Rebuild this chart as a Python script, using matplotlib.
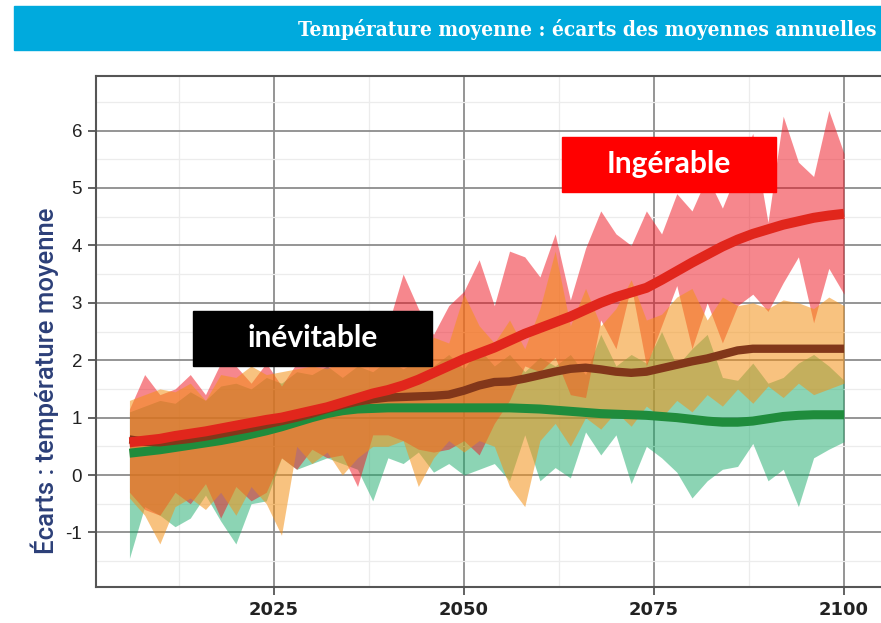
import matplotlib
matplotlib.use("Agg")
import matplotlib.pyplot as plt
from matplotlib.patches import Rectangle
from matplotlib.ticker import FixedLocator

# --- data (one value every 2 years) ---
years = list(range(2006, 2101, 2))

red_hi = [1.15, 1.75, 1.40, 1.50, 1.75, 1.40, 1.95, 1.90,
          1.60, 1.95, 1.55, 1.95, 2.10, 2.20, 2.00, 2.40,
          2.30, 2.60, 3.50, 2.90, 2.45, 2.95, 3.20, 3.75,
          2.95, 3.90, 3.80, 3.45, 4.20, 3.05, 3.95, 4.60,
          4.20, 4.00, 4.60, 4.20, 4.90, 4.60, 5.20, 4.65,
          5.30, 5.95, 4.40, 6.25, 5.45, 5.20, 6.35, 5.60]
red_lo = [-0.30, -0.60, -0.70, -0.30, -0.50, -0.15, -0.75, -0.20,
          -0.45, -0.30, 0.30, 0.10, 0.45, 0.30, 0.35, -0.20,
          0.70, 0.70, 0.60, 0.45, 0.40, 0.45, 0.60, 0.35,
          0.90, 1.30, 1.90, 1.80, 2.05, 1.40, 1.35, 2.70,
          2.20, 3.30, 1.90, 2.60, 3.30, 2.20, 3.00, 2.30,
          2.95, 3.15, 2.85, 3.35, 3.80, 2.65, 3.60, 3.15]

orange_hi = [1.30, 1.40, 1.50, 1.45, 1.60, 1.30, 1.75, 1.70,
             1.90, 1.75, 1.80, 1.85, 1.90, 1.85, 2.00, 2.10,
             1.90, 2.20, 2.30, 2.00, 2.40, 2.30, 3.15, 2.60,
             2.30, 2.70, 2.20, 2.90, 3.90, 2.60, 3.25, 2.60,
             2.90, 3.40, 2.70, 2.80, 3.10, 3.25, 2.70, 3.10,
             2.95, 3.00, 2.90, 3.05, 3.00, 2.90, 3.10, 2.95]
orange_lo = [-0.40, -0.70, -1.20, -0.55, -0.40, -0.60, -0.30, -0.70,
             -0.20, -0.50, -1.05, 0.50, 0.20, 0.40, 0.00, 0.30,
             0.50, 0.50, 0.60, -0.20, 0.30, 0.60, 0.40, 0.60,
             0.50, -0.20, -0.55, 0.60, 0.90, 0.50, 1.00, 0.80,
             1.10, 0.85, 1.20, 1.00, 1.30, 1.10, 1.40, 1.20,
             1.50, 1.25, 1.55, 1.35, 1.60, 1.40, 1.50, 1.60]

green_hi = [1.10, 1.20, 1.30, 1.25, 1.45, 1.30, 1.55, 1.60,
            1.50, 1.70, 1.60, 1.80, 1.75, 1.90, 1.70, 1.90,
            1.80, 2.00, 1.85, 2.00, 1.90, 2.10, 1.85, 2.20,
            1.90, 2.10, 1.80, 2.05, 1.90, 2.10, 1.75, 2.45,
            1.90, 2.10, 1.95, 2.50, 1.90, 2.20, 2.45, 1.70,
            1.65, 1.95, 1.60, 1.70, 1.95, 2.10, 1.90, 1.65]
green_lo = [-1.45, -0.55, -0.70, -0.90, -0.75, -0.35, -0.80, -1.20,
            -0.50, -0.45, 0.30, 0.10, 0.20, 0.30, 0.20, 0.10,
            -0.45, 0.30, 0.20, 0.40, 0.05, 0.20, 0.00, 0.10,
            0.20, -0.10, 0.70, -0.10, 0.13, -0.05, 0.75, 0.35,
            0.70, -0.15, 0.50, 0.30, 0.05, -0.40, -0.10, 0.10,
            0.15, 0.55, -0.10, 0.10, -0.55, 0.30, 0.45, 0.58]

red_med = [0.57, 0.60, 0.63, 0.68, 0.72, 0.76, 0.81, 0.86,
           0.91, 0.96, 1.00, 1.06, 1.12, 1.18, 1.26, 1.34,
           1.42, 1.48, 1.56, 1.66, 1.78, 1.90, 2.02, 2.12,
           2.22, 2.34, 2.46, 2.56, 2.66, 2.76, 2.88, 3.00,
           3.10, 3.18, 3.26, 3.40, 3.55, 3.70, 3.84, 3.98,
           4.10, 4.20, 4.28, 4.36, 4.42, 4.48, 4.52, 4.55]
brown_med = [0.62, 0.58, 0.57, 0.60, 0.63, 0.67, 0.72, 0.77,
             0.82, 0.88, 0.94, 1.00, 1.07, 1.15, 1.22, 1.28,
             1.32, 1.35, 1.36, 1.37, 1.38, 1.40, 1.47, 1.56,
             1.62, 1.63, 1.68, 1.74, 1.80, 1.85, 1.87, 1.84,
             1.80, 1.78, 1.80, 1.86, 1.92, 1.98, 2.03, 2.10,
             2.17, 2.20, 2.20, 2.20, 2.20, 2.20, 2.20, 2.20]
green_med = [0.38, 0.41, 0.44, 0.48, 0.52, 0.56, 0.60, 0.65,
             0.71, 0.77, 0.84, 0.92, 1.00, 1.07, 1.12, 1.15,
             1.16, 1.17, 1.17, 1.17, 1.17, 1.17, 1.17, 1.17,
             1.17, 1.17, 1.16, 1.15, 1.13, 1.11, 1.09, 1.07,
             1.06, 1.05, 1.04, 1.02, 1.00, 0.97, 0.94, 0.92,
             0.92, 0.94, 0.98, 1.02, 1.04, 1.05, 1.05, 1.05]

y_ticks = [-1, 0, 1, 2, 3, 4, 5, 6]
x_ticks = [2025, 2050, 2075, 2100]

W, H = 881, 623
fig = plt.figure(figsize=(W / 100, H / 100), dpi=100)

# title banner
fig.patches.append(Rectangle((14 / W, 1 - 50 / H), 1, 44 / H,
                             transform=fig.transFigure, color="#00AADD", zorder=0))
title = fig.text(298 / W, 1 - 29 / H, "Température moyenne : écarts des moyennes annuelles",
                 color="white", fontsize=15, fontweight="bold", family="DejaVu Serif",
                 fontstretch="condensed", ha="left", va="center")
# shrink the title so that it just fits in the banner
fig.canvas.draw()
bb = title.get_window_extent()
if bb.x1 > W - 3:
    title.set_fontsize(15 * (W - 3 - 298) / bb.width)

ax = fig.add_axes([96 / W, 36 / H, 794 / W, 511 / H])

# bands: green, red, then orange on top
ax.fill_between(years, green_lo, green_hi, color="#1BAB6B", alpha=0.5, lw=0, zorder=2)
ax.fill_between(years, red_lo, red_hi, color="#EF111D", alpha=0.5, lw=0, zorder=3)
ax.fill_between(years, orange_lo, orange_hi, color="#F49116", alpha=0.55, lw=0, zorder=4)

# medians
ax.plot(years, green_med, color="#1F8C3C", lw=6.5, solid_capstyle="butt", zorder=5)
ax.plot(years, brown_med, color="#82371A", lw=6, solid_capstyle="butt", zorder=6)
ax.plot(years, red_med, color="#E1261C", lw=7.2, solid_capstyle="butt", zorder=7)

ax.set_xlim(2001.6, 2106.05)
ax.set_ylim(-1.95, 6.95)
ax.xaxis.set_major_locator(FixedLocator(x_ticks))
ax.xaxis.set_minor_locator(FixedLocator([2012.5, 2037.5, 2062.5, 2087.5]))
ax.yaxis.set_major_locator(FixedLocator(y_ticks))
ax.yaxis.set_minor_locator(FixedLocator([v + 0.5 for v in range(-2, 7)]))

ax.set_axisbelow(True)
ax.grid(which="major", color="#8c8c8c", lw=1.3)
ax.grid(which="minor", color="#ececec", lw=0.9)

for side in ["left", "bottom", "top"]:
    ax.spines[side].set_color("#555555")
    ax.spines[side].set_linewidth(1.5)
ax.spines["right"].set_visible(False)

ax.tick_params(which="major", length=6, width=1.3, color="#555555", pad=4)
ax.tick_params(which="minor", length=0)
ax.set_yticklabels([str(v) for v in y_ticks], fontsize=13.5, color="#222222",
                   family="Liberation Sans")
ax.set_xticklabels([str(v) for v in x_ticks], fontsize=13, fontweight="bold",
                   color="#222222", family=["Liberation Sans Narrow", "DejaVu Sans"])

fig.text(45 / W, 1 - 381 / H, "Écarts : température moyenne", rotation=90,
         ha="center", va="center", fontsize=18.5, fontweight="medium",
         color="#2C3F78", family="Roboto")

# annotation boxes
ax.add_patch(Rectangle((2014.4, 1.90), 31.4, 0.96, color="black", zorder=10))
ax.text(2030.1, 2.38, "inévitable", color="white", fontsize=21.5, fontweight="bold",
        family="Lato", ha="center", va="center", zorder=11)
ax.add_patch(Rectangle((2062.9, 4.93), 28.15, 0.96, color="#FF0000", zorder=10))
ax.text(2076.97, 5.41, "Ingérable", color="white", fontsize=21.5, fontweight="bold",
        family="Lato", ha="center", va="center", zorder=11)

fig.savefig("out.png", dpi=100)
